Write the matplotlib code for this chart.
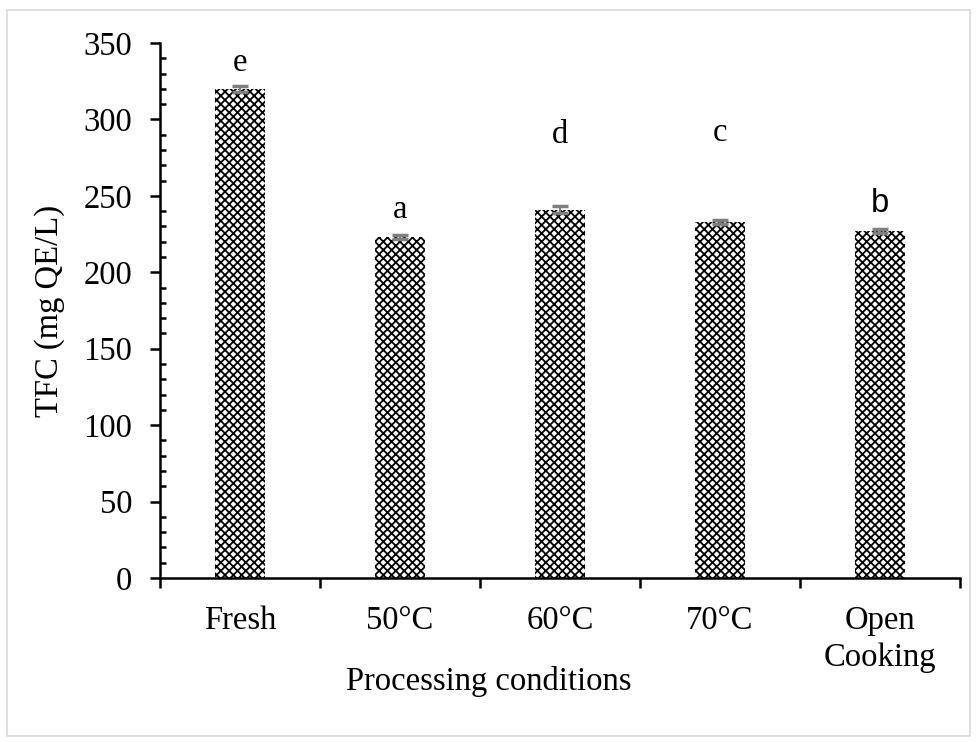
import matplotlib
matplotlib.use("Agg")
import matplotlib.pyplot as plt
from matplotlib.patches import Rectangle
from matplotlib.ticker import MultipleLocator, FixedLocator

# Total flavonoid content by processing condition
categories = ["Fresh", "50°C", "60°C", "70°C", "Open\nCooking"]
tfc_mean = [320, 223, 241, 233, 227]
tfc_err = [2.0, 1.5, 2.5, 1.5, 1.5]
sig_letters = ["e", "a", "d", "c", "b"]
letter_y = [337, 241, 290, 291, 245]

FS = 23.5

plt.rcParams["font.family"] = ["Liberation Serif", "DejaVu Serif"]
plt.rcParams["hatch.linewidth"] = 1.3
plt.rcParams["hatch.color"] = "black"

fig = plt.figure(figsize=(9.77, 7.42), dpi=100)
fig.patches.append(Rectangle((0.007, 0.008), 0.986, 0.979, transform=fig.transFigure,
                             fill=False, edgecolor="#d9d9d9", linewidth=1.2))
ax = fig.add_axes([0.1638, 0.221, 0.8188, 0.721])

x = list(range(len(categories)))
ax.bar(x, tfc_mean, width=0.31, color="white", hatch="xxxx", edgecolor="black",
       linewidth=0, zorder=2)
ax.errorbar(x, tfc_mean, yerr=tfc_err, fmt="none", ecolor="#7f7f7f",
            elinewidth=1.5, capsize=6, capthick=2.5, zorder=3)

for xi, lab, ly in zip(x, sig_letters, letter_y):
    fam = ["Liberation Sans", "DejaVu Sans"] if lab == "b" else None
    ax.text(xi, ly, lab, ha="center", va="center", fontsize=FS, family=fam)

ax.set_xlim(-0.5, len(categories) - 0.5)
ax.set_ylim(0, 350)

ax.yaxis.set_major_locator(MultipleLocator(50))
ax.yaxis.set_minor_locator(MultipleLocator(10))
ax.xaxis.set_major_locator(FixedLocator([i - 0.5 for i in range(len(categories) + 1)]))
ax.xaxis.set_minor_locator(FixedLocator(x))
ax.set_xticklabels([])
ax.set_xticklabels(categories, minor=True, linespacing=1.25)

for s in ["top", "right"]:
    ax.spines[s].set_visible(False)
for s in ["left", "bottom"]:
    ax.spines[s].set_linewidth(1.8)

ax.tick_params(axis="y", which="major", direction="out", length=7, width=1.8,
               labelsize=FS, pad=13)
ax.tick_params(axis="y", which="minor", direction="in", length=4, width=1.8)
ax.tick_params(axis="x", which="major", direction="out", length=7, width=1.8)
ax.tick_params(axis="x", which="minor", direction="in", length=4, width=1.8,
               labelsize=FS, pad=20)

ax.set_ylabel("TFC (mg QE/L)", fontsize=FS, va="center")
ax.yaxis.set_label_coords(-0.1375, 0.5)
ax.set_xlabel("Processing conditions", fontsize=FS, va="center")
ax.xaxis.set_label_coords(0.4106, -0.194)

fig.savefig("out.png", dpi=100)
